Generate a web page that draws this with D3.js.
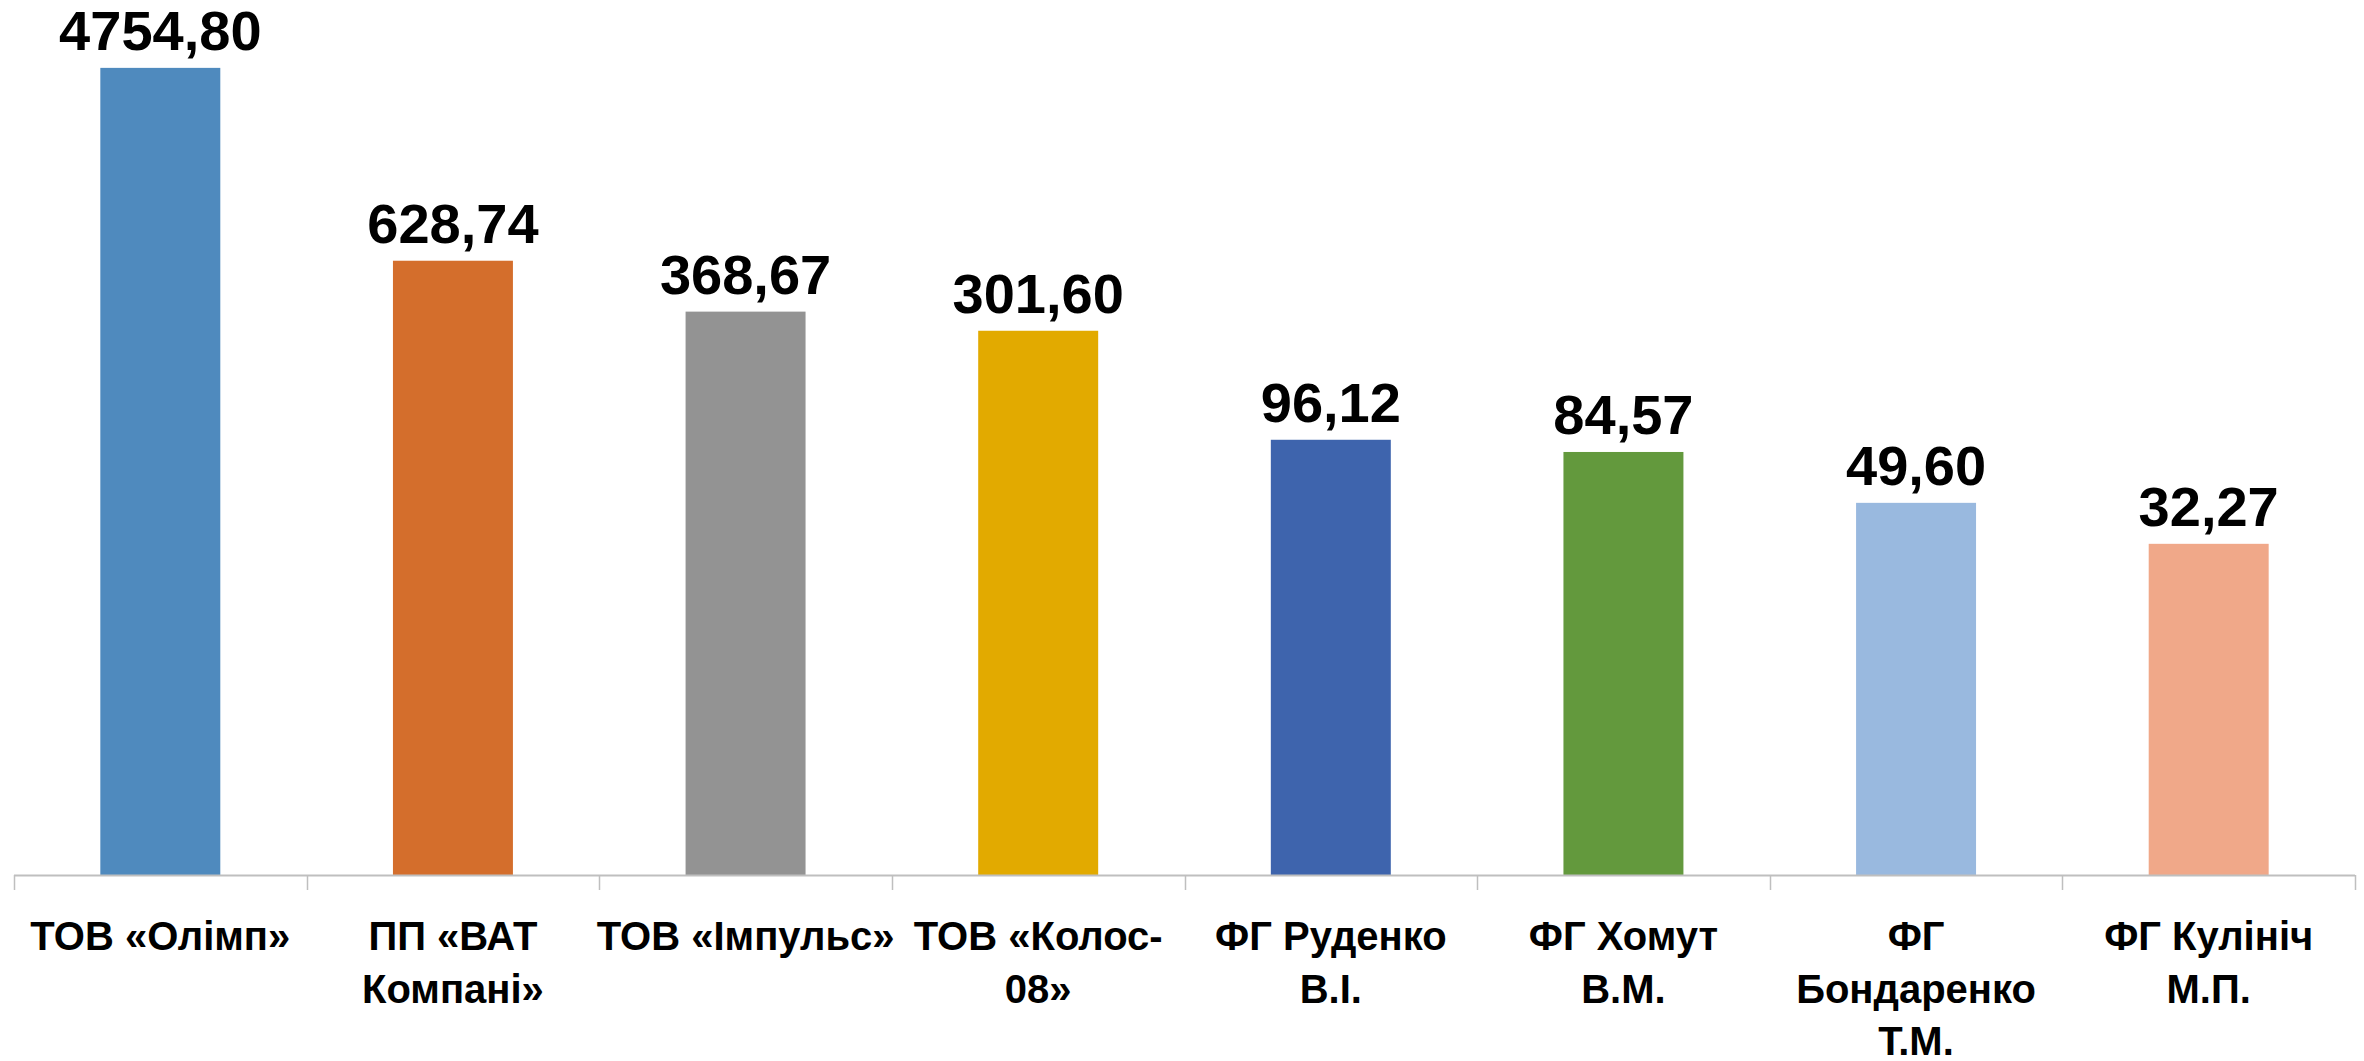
<!DOCTYPE html>
<html><head><meta charset="utf-8">
<script src="https://cdn.jsdelivr.net/npm/d3@7"></script>
<style>html,body{margin:0;padding:0;background:#fff;}svg{display:block;}</style>
</head><body>
<svg id="chart" width="2364" height="1061"></svg>
<script>
const categories = ["ТОВ «Олімп»","ПП «ВАТ\nКомпані»","ТОВ «Імпульс»","ТОВ «Колос-\n08»","ФГ Руденко\nВ.І.","ФГ Хомут\nВ.М.","ФГ\nБондаренко\nТ.М.","ФГ Кулініч\nМ.П."];
const values = [4754.80, 628.74, 368.67, 301.60, 96.12, 84.57, 49.60, 32.27];
const valueLabels = ["4754,80","628,74","368,67","301,60","96,12","84,57","49,60","32,27"];
const colors = ["#4F8ABE","#D46E2C","#939393","#E2AA00","#3E64AD","#63993D","#99B9DF","#F0A889"];

const svg = d3.select("#chart");
const x = d3.scaleBand().domain(d3.range(categories.length)).range([14, 2355]).paddingInner(0.59).paddingOuter(0.295);
const y = d3.scaleLog().domain([1, 10000]).range([875, -3]);

svg.selectAll("rect.bar").data(values).join("rect")
  .attr("class","bar")
  .attr("x",(d,i)=>x(i)).attr("width",x.bandwidth())
  .attr("y",d=>y(d)).attr("height",d=>y(1)-y(d))
  .attr("fill",(d,i)=>colors[i]);

svg.selectAll("text.val").data(values).join("text")
  .attr("class","val")
  .attr("x",(d,i)=>x(i)+x.bandwidth()/2)
  .attr("y",d=>y(d)-18)
  .attr("text-anchor","middle")
  .attr("font-family","Liberation Sans, Arial, sans-serif")
  .attr("font-weight","bold")
  .attr("font-size",56)
  .attr("fill","#000")
  .text((d,i)=>valueLabels[i]);

// axis
const xAxis = d3.scaleBand().domain(d3.range(categories.length)).range([14, 2355]);
const g = svg.append("g");
g.append("line").attr("x1",14).attr("x2",2355).attr("y1",875.5).attr("y2",875.5).attr("stroke","#BFBFBF").attr("stroke-width",2);
const ticks = d3.range(categories.length+1).map(i=> i<categories.length ? xAxis(i) : 2355);
g.selectAll("line.tick").data(ticks).join("line").attr("class","tick")
  .attr("x1",d=>Math.round(d)+0.5).attr("x2",d=>Math.round(d)+0.5).attr("y1",875).attr("y2",890)
  .attr("stroke","#BFBFBF").attr("stroke-width",1.5);

const lab = svg.selectAll("text.cat").data(categories).join("text")
  .attr("class","cat")
  .attr("text-anchor","middle")
  .attr("font-family","Liberation Sans, Arial, sans-serif")
  .attr("font-weight","bold")
  .attr("font-size",40)
  .attr("fill","#000");
lab.each(function(d,i){
  const lines = d.split("\n");
  d3.select(this).selectAll("tspan").data(lines).join("tspan")
    .attr("x", xAxis(i)+xAxis.bandwidth()/2)
    .attr("y",(l,j)=>950+j*52.5)
    .text(l=>l);
});
</script>
</body></html>
